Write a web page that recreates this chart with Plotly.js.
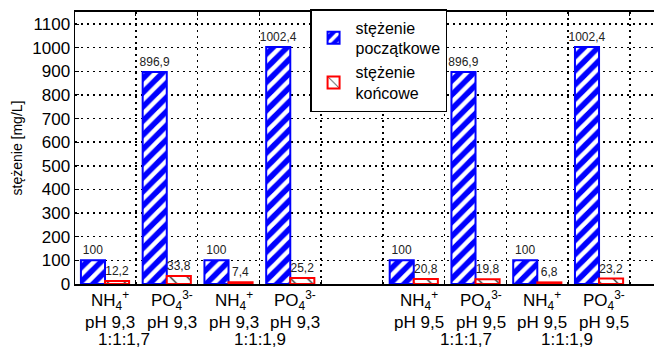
<!DOCTYPE html>
<html>
<head>
<meta charset="utf-8">
<script src="https://cdn.plot.ly/plotly-3.0.1.min.js"></script>
<style>html,body{margin:0;padding:0;background:#fff;}#chart{width:654px;height:350px;}</style>
</head>
<body>
<div id="chart"></div>
<script>
// ---- data ----
const positions = [1, 2, 3, 4, 6, 7, 8, 9];
const ions = ['NH<sub>4</sub><sup>+</sup>', 'PO<sub>4</sub><sup>3-</sup>', 'NH<sub>4</sub><sup>+</sup>', 'PO<sub>4</sub><sup>3-</sup>',
              'NH<sub>4</sub><sup>+</sup>', 'PO<sub>4</sub><sup>3-</sup>', 'NH<sub>4</sub><sup>+</sup>', 'PO<sub>4</sub><sup>3-</sup>'];
const phLabels = ['pH 9,3', 'pH 9,3', 'pH 9,3', 'pH 9,3', 'pH 9,5', 'pH 9,5', 'pH 9,5', 'pH 9,5'];
const ratioLabels = ['1:1:1,7', '1:1:1,9', '1:1:1,7', '1:1:1,9'];
const initialConc = [100, 896.9, 100, 1002.4, 100, 896.9, 100, 1002.4];
const finalConc = [12.2, 33.8, 7.4, 25.2, 20.8, 19.8, 6.8, 23.2];
const seriesNames = ['stężenie<br>początkowe', 'stężenie<br>końcowe'];
const yTicks = [0, 100, 200, 300, 400, 500, 600, 700, 800, 900, 1000, 1100];

// ---- layout helpers ----
const ratioX = [1.31, 3.51, 6.85, 8.48];
const FONT = 'Liberation Sans, Arial, Helvetica, sans-serif';
const fmt = v => String(v).replace('.', ',');

const traces = [
  {
    type: 'bar', x: positions, y: initialConc, name: seriesNames[0],
    text: initialConc.map(fmt), textposition: 'outside', cliponaxis: false, constraintext: 'none',
    textfont: {family: FONT, size: 12, color: '#222'},
    marker: {color: '#0000ff', line: {color: '#0000ff', width: 2},
             pattern: {shape: '/', fillmode: 'replace', bgcolor: '#0000ff', fgcolor: '#ffffff', size: 10, solidity: 0.45}},
    hoverinfo: 'skip'
  },
  {
    type: 'bar', x: positions, y: finalConc, name: seriesNames[1],
    text: finalConc.map(fmt), textposition: 'outside', cliponaxis: false, constraintext: 'none',
    textfont: {family: FONT, size: 12, color: '#222'},
    marker: {color: '#ffffff', line: {color: '#ff0000', width: 2},
             pattern: {shape: '\\', fillmode: 'replace', bgcolor: '#ffffff', fgcolor: '#000000', size: 12, solidity: 0.1}},
    hoverinfo: 'skip'
  }
];

const annotations = [];
positions.forEach((p, i) => {
  annotations.push({x: p, y: -0.062, xref: 'x', yref: 'paper', text: ions[i], showarrow: false,
    xshift: 5, yanchor: 'middle', font: {family: FONT, size: 17, color: '#000'}});
  annotations.push({x: p, y: -0.14, xref: 'x', yref: 'paper', text: phLabels[i], showarrow: false,
    xshift: 5, yanchor: 'middle', font: {family: FONT, size: 17, color: '#000'}});
});
ratioLabels.forEach((t, i) => {
  annotations.push({x: ratioX[i], y: -0.205, xref: 'x', yref: 'paper', text: t, showarrow: false,
    yanchor: 'middle', font: {family: FONT, size: 17, color: '#000'}});
});

const layout = {
  width: 654, height: 350,
  margin: {l: 75, r: 0, t: 12, b: 66, pad: 0},
  paper_bgcolor: '#ffffff', plot_bgcolor: '#ffffff',
  font: {family: FONT, size: 17, color: '#000'},
  barmode: 'group', bargap: 0.22, bargroupgap: 0,
  showlegend: true,
  legend: {x: 0.406, y: 1.011, xanchor: 'left', yanchor: 'top',
           bgcolor: '#ffffff', bordercolor: '#000000', borderwidth: 1.5,
           font: {family: FONT, size: 16, color: '#000'}, tracegroupgap: 6, itemwidth: 34},
  xaxis: {
    range: [0.514, 9.89], tickmode: 'array', tickvals: [1.5, 2.5, 3.5, 4.5, 5.5, 6.5, 7.5, 8.5, 9.5],
    showticklabels: false,
    showgrid: true, gridcolor: '#000000', gridwidth: 1.5, griddash: '2px,4px',
    showline: true, linecolor: '#000000', linewidth: 2, mirror: 'allticks',
    ticks: 'inside', ticklen: 4, tickcolor: '#000', zeroline: false, fixedrange: true
  },
  yaxis: {
    range: [0, 1151], tickmode: 'array', tickvals: yTicks, ticktext: yTicks.map(String),
    showgrid: true, gridcolor: '#000000', gridwidth: 1.5, griddash: '2px,4px',
    showline: true, linecolor: '#000000', linewidth: 1.5, mirror: false,
    ticks: 'inside', ticklen: 4, tickcolor: '#000', zeroline: false,
    tickfont: {family: FONT, size: 17, color: '#000'},
    title: {text: 'stężenie [mg/L]', font: {family: FONT, size: 14, color: '#000'}, standoff: 6},
    automargin: false, fixedrange: true
  },
  annotations: annotations
};

Plotly.newPlot('chart', traces, layout, {displayModeBar: false, staticPlot: true});
</script>
</body>
</html>
